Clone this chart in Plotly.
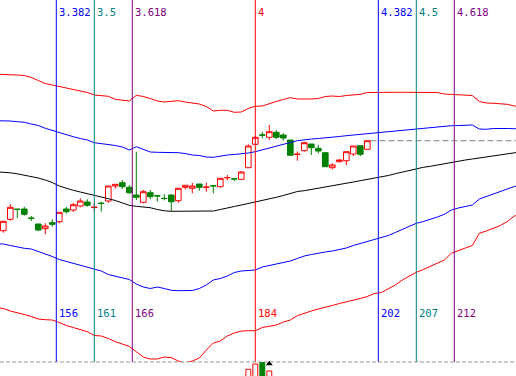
import plotly.graph_objects as go

# ---------------- data ----------------
bars = list(range(148, 201))
opens = [131.3,142.7,153,153,143.9,138,133.3,139.3,140.3,153,152,156,160,154.5,158.8,161,176,179.3,174.7,167,
         159.7,169.3,166.3,163.7,167,161.3,174.7,173.7,178,174.5,176.3,175.3,184.2,183.3,182.7,194.3,217.7,227.1,
         224.7,229.7,227,222,207.5,211.3,218,213.7,209.3,194.3,200.3,201.3,208,216.3,212.7]
highs = [141,158,153,155.3,146,138,138.7,142.7,149.7,155.3,159,163.7,162.7,159.3,160.3,176,177.7,182,177,210.3,
         172,172,166.3,167.7,167.7,173.7,176.7,179.3,178,179.3,176.3,183.7,187,183.3,191,217.7,226.3,230.3,237,
         232,228.7,222,210.3,220.3,218,217,209.3,198.7,202.7,210.3,216,216.3,221.3]
lows = [129.3,141.3,143.7,146.3,141,131,127.7,135.3,138.7,148.3,150,154.7,155.3,150.7,150.3,159.3,173.3,173,168,
        162,158.7,162.7,160.3,161.7,151,159.3,172.7,168.7,171.3,170.3,168.7,174.3,181.7,181,182.7,194.3,217.7,
        223.7,222,223,221.3,206.7,201.3,210.3,207,208.7,195.3,192.7,199.7,197,206,206,212.7]
closes = [140.7,154.7,152.5,147.7,143.7,132,136,137.7,149.7,150.3,157.3,161,156.7,154.8,158.6,176,177.7,175.3,
          169.3,164.7,170.3,165.3,166.1,163.5,160.3,173.7,176.7,176,174.7,174.9,176.1,183.7,184.5,183.1,190,216,
          224.7,226.9,230.3,224.7,224,206.7,207.8,219.3,214.3,211,195.3,197,202,210.3,216,207.7,221.3]

band_bars = list(range(147, 223))
outer_upper = [287.7,287.7,287.7,287,286.5,284.5,281.5,278.5,277,275.5,273.7,272,270.5,269.5,267,266.5,265.7,
               262.7,261.5,261,266.7,265.5,263.5,261,260,261,261.3,260,259,258,255.5,251,251.7,251.7,249.7,250,
               253.5,255.7,256,258.5,260.5,262.5,264.3,263,262.7,263,263.5,265.5,266,265.5,266.5,267,267.7,269.5,
               269.7,270,269.7,269.7,269.7,269.7,269.7,269.7,269.7,269.5,268,267.7,267.5,267.2,266.5,260.5,259,
               258.7,258.3,257.7,256,255.5]
inner_upper = [241.3,241.3,241,240.3,239.7,238,236.5,233.7,231.5,229.5,227.5,225.3,223.5,222,219.3,218.5,217.7,
               216.5,215,212,215.3,213,210,209.7,209.7,209.5,209.3,208.5,207,206.5,205,204.7,206,207,207.5,208,
               209,210.3,212,213.7,215.5,217.7,219.5,221.3,222.5,223,223.5,224,224.8,225.5,226.3,227,227.7,228.3,
               229,229.7,230.5,231.3,232,232.7,233.3,234,234.7,235.3,236,236.3,236.5,236.8,237,233,232.7,233.5,
               233.7,233.5,233.3,233.3]
middle = [190.2,190,189.2,188.2,187,185.5,184,182,179.5,176,173.7,171.7,170,168.5,166.3,165,163.3,161.5,159.3,
          156.7,155.7,155,154.3,152.5,151.2,150.7,150.7,150.7,150.7,150.7,150.7,151,152.5,154.3,155.5,157,158.5,
          159.7,161,163,164.7,166.5,168.7,170.5,171.3,172.5,173.7,174.5,175.7,177,178.3,180,181.3,182.5,183.7,
          185,186.5,188.3,190,191.7,193.5,194.7,195.7,197,198.2,200,201,202,203,204,205,206,207.3,208.7,209.7,210.2]
inner_lower = [118.3,118,116.5,115,113.7,113,110.5,108.5,105.5,102.5,100.5,98.5,97,94.5,92.7,91,87.5,86,84,82.5,
               78,75,73.5,75,73.5,71.7,71.3,71.3,71.5,73.5,77,82,83.5,86,89.5,91,91.5,92,95,96.5,97.5,99.5,101,
               103.5,106,107.5,109,110,111,112.5,114,116.5,118.5,120.3,122,124,126.5,129.5,132.5,136,138.7,140.5,
               142.5,145,147.7,152,154,155.5,157,163,165.5,168,170.5,172.5,175.5,176.5]
outer_lower = [54.5,53.5,51,49.5,47.5,45.5,43,42.3,42,39.5,36.5,34.5,32.5,30.3,26.5,26,23.5,20.3,18,15.5,10.3,5,3,
               3,5,4.3,1,-1,1,4,12,19,21,26,29,31,31.3,31.3,34.5,35.5,37,40,42,46.3,49,51,53,54.5,56.5,58.5,60,
               61.5,63.5,65.5,68.5,69.5,73,77,82,86,89.7,92.5,95.5,98.7,102,108.7,111,114,116.5,128.7,131,133.7,
               136.5,140.5,146,148]

base_period = 46
fib_ratios = [3.382, 3.5, 3.618, 4, 4.382, 4.5, 4.618]
ratio_labels = ["3.382", "3.5", "3.618", "4", "4.382", "4.5", "4.618"]
bar_labels = ["156", "161", "166", "184", "202", "207", "212"]
fib_colors = ["#0000FF", "#008080", "#800080", "#FF0000", "#0000FF", "#008080", "#800080"]

vol_bars = [183, 184, 185, 186]
volumes = [92.7, 98, 100, 91]
vol_up = [True, True, False, True]
signal_bar = [186]
signal_level = [98.2]

# ---------------- figure ----------------
W, H = 516, 376
split = 14 / H
x_range = [147.53, 221.24]

fig = go.Figure()

band_styles = [(outer_upper, "#FF0000"), (inner_upper, "#0000FF"), (middle, "#000000"),
               (inner_lower, "#0000FF"), (outer_lower, "#FF0000")]
for vals, col in band_styles:
    fig.add_trace(go.Scatter(x=band_bars, y=vals, mode="lines", line=dict(color=col, width=1),
                             hoverinfo="skip", showlegend=False))

fig.add_trace(go.Candlestick(
    x=bars, open=opens, high=highs, low=lows, close=closes,
    increasing=dict(line=dict(color="#FF0000", width=1), fillcolor="#FFFFFF"),
    decreasing=dict(line=dict(color="#008000", width=1), fillcolor="#008000"),
    whiskerwidth=0, showlegend=False, hoverinfo="skip"))

fig.add_trace(go.Bar(
    x=vol_bars, y=volumes, yaxis="y2", width=0.7,
    marker=dict(color=["#FFFFFF" if u else "#008000" for u in vol_up],
                line=dict(color=["#FF0000" if u else "#008000" for u in vol_up], width=1)),
    showlegend=False, hoverinfo="skip"))
fig.add_trace(go.Scatter(x=signal_bar, y=signal_level, yaxis="y2", mode="markers",
                         marker=dict(symbol="triangle-up", size=6, color="black"),
                         showlegend=False, hoverinfo="skip", cliponaxis=False))

shapes = []
annotations = []
font_family = "DejaVu Sans Mono"
for r, rl, bl, col in zip(fib_ratios, ratio_labels, bar_labels, fib_colors):
    xpos = r * base_period
    shapes.append(dict(type="line", xref="x", yref="paper", x0=xpos, x1=xpos, y0=split, y1=1,
                       line=dict(color=col, width=1)))
    annotations.append(dict(x=xpos, y=1 - 12 / H, xref="x", yref="paper", text=rl, showarrow=False,
                            xanchor="left", yanchor="middle", xshift=1,
                            font=dict(family=font_family, size=10.5, color=col)))
    annotations.append(dict(x=xpos, y=1 - 313 / H, xref="x", yref="paper", text=bl, showarrow=False,
                            xanchor="left", yanchor="middle", xshift=1,
                            font=dict(family=font_family, size=10.5, color=col)))

# panel separator
shapes.append(dict(type="line", xref="paper", yref="paper", x0=0, x1=1, y0=split, y1=split,
                   line=dict(color="#999999", width=1, dash="4px,2px")))
# last price line
shapes.append(dict(type="line", xref="x", yref="y", x0=bars[-1] + 0.45, x1=x_range[1],
                   y0=closes[-1], y1=closes[-1],
                   line=dict(color="#808080", width=1, dash="6px,3px")))

fig.update_layout(
    width=W, height=H, margin=dict(l=0, r=0, t=0, b=0),
    paper_bgcolor="white", plot_bgcolor="white",
    xaxis=dict(range=x_range, visible=False, rangeslider=dict(visible=False), fixedrange=True),
    yaxis=dict(range=[0, 362], domain=[split, 1], visible=False, fixedrange=True),
    yaxis2=dict(range=[86, 100], domain=[0, split], visible=False, fixedrange=True),
    shapes=shapes, annotations=annotations, showlegend=False, bargap=0,
    boxgap=0.2, boxgroupgap=0, hovermode=False,
)

fig.write_html("out.html", config={"displayModeBar": False, "staticPlot": True},
               post_script="document.body.style.margin='0px';")
